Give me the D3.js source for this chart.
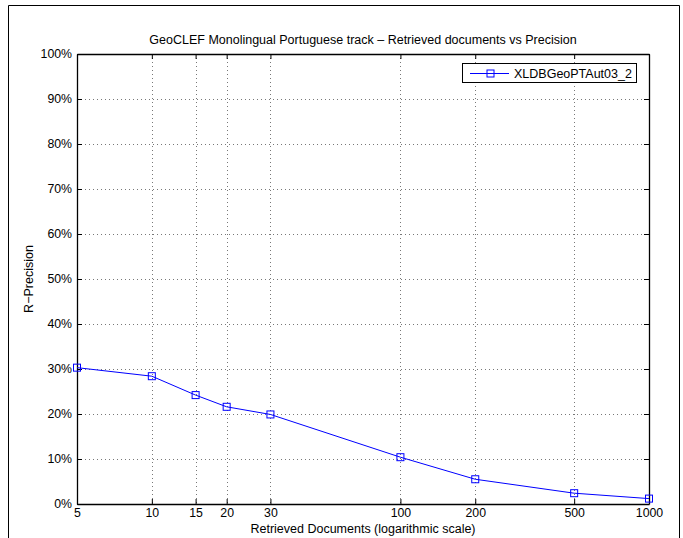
<!DOCTYPE html>
<html><head><meta charset="utf-8">
<script src="https://cdn.jsdelivr.net/npm/d3@7"></script>
<style>
body{margin:0;background:#fff;}
svg text{font-family:"Liberation Sans",Arial,Helvetica,sans-serif;fill:#000;}
</style></head>
<body><svg id="c" width="683" height="538"></svg>
<script>
const docs = [5, 10, 15, 20, 30, 100, 200, 500, 1000];
const precision = [30.3, 28.4, 24.2, 21.6, 19.9, 10.4, 5.5, 2.4, 1.2];
const xTicks = [5, 10, 15, 20, 30, 100, 200, 500, 1000];
const yTicks = [0, 10, 20, 30, 40, 50, 60, 70, 80, 90, 100];
const seriesName = "XLDBGeoPTAut03_2";
const titleText = "GeoCLEF Monolingual Portuguese track \u2013 Retrieved documents vs Precision";
const xLabel = "Retrieved Documents (logarithmic scale)";
const yLabel = "R\u2212Precision";

const FS = 12.5, TFS = 12.3;
const svg = d3.select("#c");
const L = 77, R = 649, T = 54, B = 504;
const x = d3.scaleLog().domain([5, 1000]).range([L, R]);
const y = d3.scaleLinear().domain([0, 100]).range([B, T]);

// outer frame
svg.append("path").attr("d", "M8.5,538 V5.5 H679.5 V538")
  .attr("fill", "none").attr("stroke", "#000").attr("stroke-width", 1);

// grid
const g = svg.append("g");
g.selectAll(".gx").data(xTicks.slice(1, -1)).enter().append("line")
  .attr("x1", d => Math.round(x(d)) + 0.5).attr("x2", d => Math.round(x(d)) + 0.5)
  .attr("y1", T).attr("y2", B)
  .attr("stroke", "#555").attr("stroke-width", 0.8).attr("stroke-dasharray", "1,3");
g.selectAll(".gy").data(yTicks.slice(1, -1)).enter().append("line")
  .attr("y1", d => Math.round(y(d)) + 0.5).attr("y2", d => Math.round(y(d)) + 0.5)
  .attr("x1", L).attr("x2", R)
  .attr("stroke", "#555").attr("stroke-width", 0.8).attr("stroke-dasharray", "1,3");

// axes
const fmt = d => d + "%";
const axB = svg.append("g").attr("transform", `translate(0,${B})`)
  .call(d3.axisBottom(x).tickValues(xTicks).tickFormat(d3.format("d")).tickSizeInner(-5).tickSizeOuter(0).tickPadding(4.5));
const axT = svg.append("g").attr("transform", `translate(0,${T})`)
  .call(d3.axisTop(x).tickValues(xTicks).tickFormat("").tickSizeInner(-5).tickSizeOuter(0));
const axL = svg.append("g").attr("transform", `translate(${L},0)`)
  .call(d3.axisLeft(y).tickValues(yTicks).tickFormat(fmt).tickSizeInner(-5).tickSizeOuter(0).tickPadding(5));
const axR = svg.append("g").attr("transform", `translate(${R},0)`)
  .call(d3.axisRight(y).tickValues(yTicks).tickFormat("").tickSizeInner(-5).tickSizeOuter(0));
[axB, axT, axL, axR].forEach(a => {
  a.selectAll("text").attr("font-size", TFS).attr("font-family", '"Liberation Sans",Arial,sans-serif');
  a.select(".domain").attr("stroke", "#000").attr("stroke-width", 1.3);
  a.selectAll(".tick line").attr("stroke", "#000");
});

// line
const line = d3.line().x((d, i) => x(docs[i])).y(d => y(d));
svg.append("path").datum(precision).attr("d", line)
  .attr("fill", "none").attr("stroke", "#0000ff").attr("stroke-width", 1);
svg.selectAll(".m").data(precision).enter().append("rect")
  .attr("x", (d, i) => x(docs[i]) - 3.5).attr("y", d => y(d) - 3.5)
  .attr("width", 7).attr("height", 7)
  .attr("fill", "none").attr("stroke", "#0000ff").attr("stroke-width", 1);

// title & labels
svg.append("text").attr("x", (L + R) / 2).attr("y", 44).attr("text-anchor", "middle")
  .attr("font-size", FS).text(titleText);
svg.append("text").attr("x", (L + R) / 2).attr("y", 533).attr("text-anchor", "middle")
  .attr("font-size", FS).text(xLabel);
svg.append("text").attr("transform", `translate(33,${(T + B) / 2}) rotate(-90)`)
  .attr("text-anchor", "middle").attr("font-size", FS).text(yLabel);

// legend
const lg = svg.append("g");
lg.append("rect").attr("x", 462.5).attr("y", 63.5).attr("width", 174).attr("height", 19)
  .attr("fill", "#fff").attr("stroke", "#000").attr("stroke-width", 1);
lg.append("line").attr("x1", 470).attr("x2", 509).attr("y1", 73.5).attr("y2", 73.5)
  .attr("stroke", "#0000ff").attr("stroke-width", 1);
lg.append("rect").attr("x", 487).attr("y", 70).attr("width", 7).attr("height", 7)
  .attr("fill", "none").attr("stroke", "#0000ff").attr("stroke-width", 1);
lg.append("text").attr("x", 514).attr("y", 78).attr("font-size", FS).text(seriesName);
</script></body></html>
